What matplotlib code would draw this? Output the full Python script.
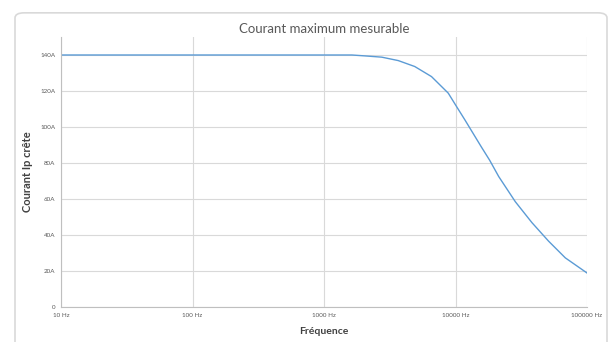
import matplotlib.pyplot as plt
from matplotlib.patches import FancyBboxPatch

plt.rcParams['font.family'] = ['Lato', 'DejaVu Sans']

# lecture approximative de la courbe
freq = [10, 100, 1000, 1150, 1630, 2050, 2750, 3670, 4900, 6570, 8810, 10000,
        11800, 15700, 18200, 21300, 28500, 38100, 51000, 68400, 100000]
courant = [140, 140, 140, 140, 140, 139.5, 138.8, 136.9, 133.6, 128, 118.8,
           112.3, 103.9, 89, 81.5, 72.5, 58.5, 46.9, 36.6, 27.3, 18.9]

yticks = [0, 20, 40, 60, 80, 100, 120, 140]
ylabels = ["0", "20A", "40A", "60A", "80A", "100A", "120A", "140A"]
xticks = [10, 100, 1000, 10000, 100000]
xlabels = ["10 Hz", "100 Hz", "1000 Hz", "10000 Hz", "100000 Hz"]

fig = plt.figure(figsize=(6.12, 3.42), dpi=100)
border = FancyBboxPatch((15 / 612, -0.05), 592 / 612, 1.03 - 6 / 342,
                        boxstyle="round,pad=0,rounding_size=0.015",
                        transform=fig.transFigure, fc="white", ec="#d9d9d9",
                        lw=1.2, zorder=-5)
fig.patches.append(border)

ax = fig.add_axes([61 / 612, 35 / 342, 526 / 612, 270 / 342])
ax.set_zorder(2)
ax.set_facecolor("none")
ax.plot(freq, courant, color="#5b9bd5", lw=1.0)
ax.set_xscale("log")
ax.set_xlim(10, 100000)
ax.set_ylim(0, 150)
ax.set_yticks(yticks)
ax.set_yticklabels(ylabels)
ax.set_xticks(xticks)
ax.set_xticklabels(xlabels)
ax.minorticks_off()
ax.grid(True, color="#d9d9d9", lw=0.8)
ax.tick_params(length=0, labelsize=4.5, labelcolor="#595959", pad=4)
for s in ["top", "right"]:
    ax.spines[s].set_visible(False)
for s in ["left", "bottom"]:
    ax.spines[s].set_color("#bfbfbf")
    ax.spines[s].set_linewidth(0.8)

ax.set_title("Courant maximum mesurable", fontsize=9.5, color="#595959", pad=3)
ax.set_xlabel("Fréquence", fontsize=7.5, fontweight="bold", color="#404040", labelpad=7)
ax.set_ylabel("Courant Ip crête", fontsize=8, fontweight="bold", color="#404040", labelpad=5)

fig.savefig("out.png", dpi=100)
